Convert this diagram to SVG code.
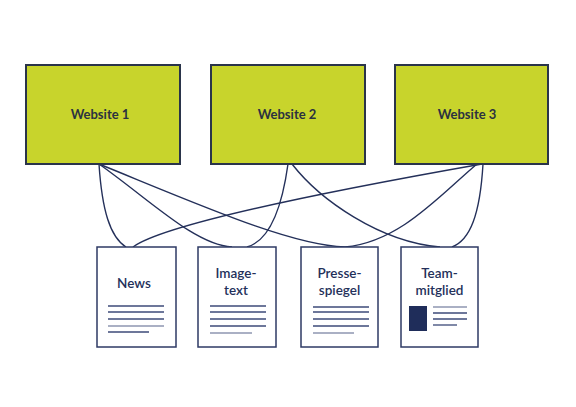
<svg xmlns="http://www.w3.org/2000/svg" width="576" height="407" viewBox="0 0 576 407">
<style>
.site{fill:#c8d42c;stroke:#2a344a;stroke-width:2}
.st{font-family:Lato,"Liberation Sans",sans-serif;font-weight:bold;font-size:13px;fill:#2b3140;text-anchor:middle}
.doc{fill:#ffffff;stroke:#2e3a64;stroke-width:1.5}
.dt{font-family:Lato,"Liberation Sans",sans-serif;font-weight:600;font-size:13.5px;fill:#23305a;text-anchor:middle}
.ln{stroke:#3c4a78;stroke-width:1.3}
.lg{stroke:#8e96b0;stroke-width:1.5}
.edge{fill:none;stroke:#24305a;stroke-width:1.4}
</style>
<rect width="576" height="407" fill="#ffffff"/>
<g id="edges">
<path class="edge" d="M99,164 C102,210 110,237 126,247"/>
<path class="edge" d="M99,164 C150,200 195,245 232,247"/>
<path class="edge" d="M99,164 C200,205 290,245 345,247"/>
<path class="edge" d="M288,164 C283,200 272,240 247,247"/>
<path class="edge" d="M292,164 C320,200 380,242 440,247"/>
<path class="edge" d="M482,164 C380,182 170,220 133,247"/>
<path class="edge" d="M477,164 C440,195 400,242 345,247"/>
<path class="edge" d="M483,164 C480,215 470,240 452,247"/>
</g>
<g id="website1">
<rect class="site" x="26" y="65" width="154" height="99"/>
<text class="st" x="100" y="119">Website 1</text>
</g>
<g id="website2">
<rect class="site" x="211" y="65" width="154" height="99"/>
<text class="st" x="287" y="119">Website 2</text>
</g>
<g id="website3">
<rect class="site" x="395" y="65" width="153" height="99"/>
<text class="st" x="467" y="119">Website 3</text>
</g>
<g id="news">
<rect class="doc" x="97" y="247" width="79" height="100"/>
<text class="dt" x="134" y="288">News</text>
<line class="ln" x1="108" y1="306" x2="164" y2="306"/>
<line class="ln" x1="108" y1="312" x2="164" y2="312"/>
<line class="ln" x1="108" y1="319" x2="164" y2="319"/>
<line class="lg" x1="108" y1="326" x2="164" y2="326"/>
<line class="ln" x1="108" y1="332" x2="149" y2="332"/>
</g>
<g id="imagetext">
<rect class="doc" x="198" y="247" width="78" height="100"/>
<text class="dt" x="236" y="278">Image-</text>
<text class="dt" x="236" y="295">text</text>
<line class="ln" x1="210" y1="306" x2="266" y2="306"/>
<line class="ln" x1="210" y1="312" x2="266" y2="312"/>
<line class="ln" x1="210" y1="319" x2="266" y2="319"/>
<line class="ln" x1="210" y1="326" x2="266" y2="326"/>
<line class="lg" x1="210" y1="333" x2="252" y2="333"/>
</g>
<g id="pressespiegel">
<rect class="doc" x="301" y="247" width="77" height="100"/>
<text class="dt" x="339.5" y="278">Presse-</text>
<text class="dt" x="339.5" y="295">spiegel</text>
<line class="ln" x1="313" y1="307" x2="369" y2="307"/>
<line class="ln" x1="313" y1="312" x2="369" y2="312"/>
<line class="ln" x1="313" y1="319" x2="369" y2="319"/>
<line class="ln" x1="313" y1="326" x2="369" y2="326"/>
<line class="lg" x1="313" y1="333" x2="354" y2="333"/>
</g>
<g id="teammitglied">
<rect class="doc" x="401" y="247" width="77" height="100"/>
<text class="dt" x="439.5" y="278">Team-</text>
<text class="dt" x="439.5" y="295">mitglied</text>
<rect x="409" y="306" width="18" height="25" fill="#1f2d5a"/>
<line class="lg" x1="433" y1="307" x2="467" y2="307"/>
<line class="ln" x1="433" y1="313" x2="467" y2="313"/>
<line class="ln" x1="433" y1="319" x2="467" y2="319"/>
<line class="ln" x1="433" y1="325" x2="457" y2="325"/>
</g>
</svg>
